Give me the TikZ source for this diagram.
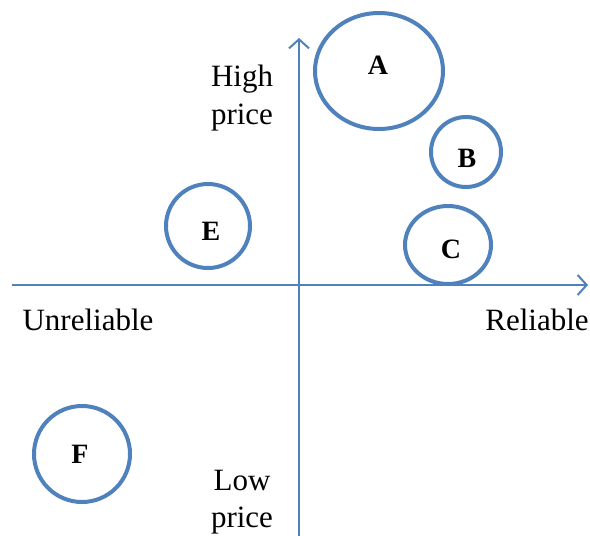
\documentclass[tikz,border=0pt]{standalone}
\usepackage{fontspec}
\setmainfont{Liberation Serif}
\usetikzlibrary{arrows.meta}
\definecolor{axblue}{RGB}{79,129,189}
\tikzset{
  axis/.style={draw=axblue, line width=2.6pt, -{Straight Barb[length=9pt,width=20pt,line width=2pt]}},
  bubble/.style={draw=axblue, line width=4pt},
  blabel/.style={font=\fontsize{28}{32}\selectfont\bfseries, inner sep=0pt},
  alabel/.style={font=\fontsize{31}{37.5}\selectfont, align=center, inner sep=0pt},
}
\begin{document}
\begin{tikzpicture}[x=1pt,y=-1pt]
\useasboundingbox (0,0) rectangle (590,536);
% axes
\coordinate (vbot) at (299,536);
\coordinate (vtop) at (299,38);
\coordinate (hl) at (12,285);
\coordinate (hr) at (588,285);
\draw[axis] (vbot) -- (vtop);
\draw[axis] (hl) -- (hr);
% bubbles
\draw[bubble] (379,71) ellipse [x radius=64, y radius=58];
\draw[bubble] (466,152) circle [radius=35];
\draw[bubble] (448,245) ellipse [x radius=43, y radius=39];
\draw[bubble] (208,226) circle [radius=42];
\draw[bubble] (82,454) circle [radius=48];
% bubble labels
\node[blabel] (A) at (378,65) {A};
\node[blabel] (B) at (467,158) {B};
\node[blabel] (C) at (451,249) {C};
\node[blabel] (E) at (211,231) {E};
\node[blabel] (F) at (80,454) {F};
% axis labels
\node[alabel] (hp) at (242,98) {High\\price};
\node[alabel] (lp) at (242,502) {Low\\price};
\node[alabel] (ur) at (88,320) {Unreliable};
\node[alabel] (rl) at (537,320) {Reliable};
\end{tikzpicture}
\end{document}
